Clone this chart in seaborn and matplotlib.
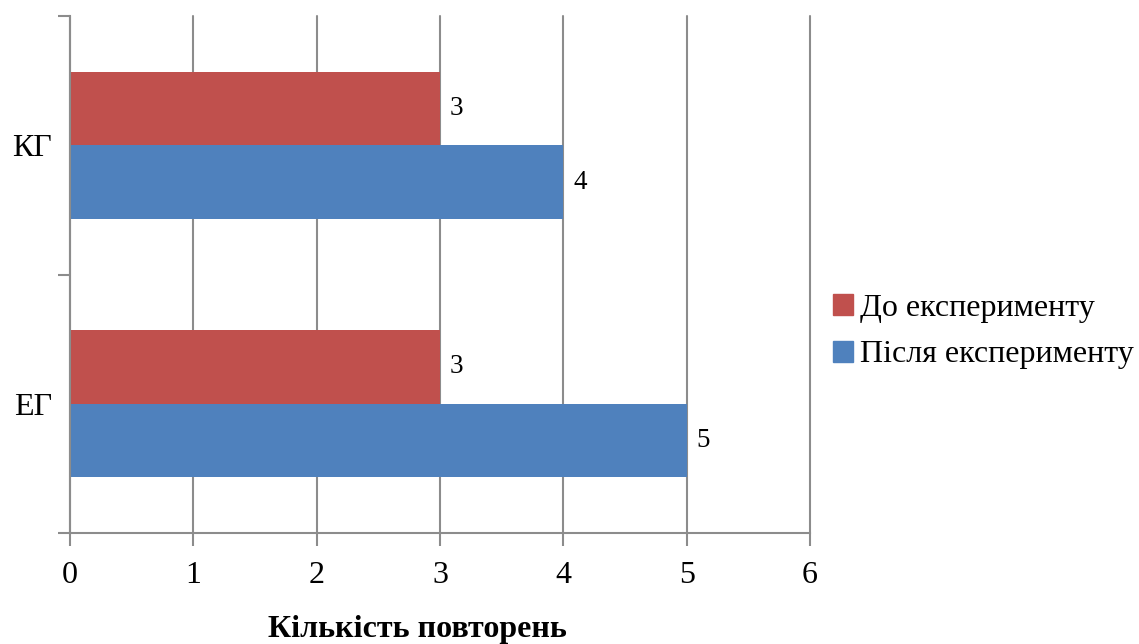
import matplotlib
matplotlib.use("Agg")
import matplotlib.pyplot as plt
import seaborn as sns
import pandas as pd
from matplotlib.ticker import FixedLocator

groups = ["КГ", "ЕГ"]
series_names = ["До експерименту", "Після експерименту"]
before_vals = [3, 3]
after_vals = [4, 5]
x_ticks = [0, 1, 2, 3, 4, 5, 6]
x_label = "Кількість повторень"

colors = ["#C0504D", "#4F81BD"]

df = pd.DataFrame({
    "group": groups * 2,
    "series": [series_names[0]] * len(groups) + [series_names[1]] * len(groups),
    "value": before_vals + after_vals,
})

sns.set_theme(style="white")
plt.rcParams["font.family"] = ["Liberation Serif", "DejaVu Serif"]

fig = plt.figure(figsize=(11.39, 6.44), dpi=100)
ax = fig.add_axes([70 / 1139, 1 - 533 / 644, 740 / 1139, 517 / 644])

sns.barplot(data=df, y="group", x="value", hue="series", order=groups,
            hue_order=series_names, palette=colors, width=0.57,
            orient="h", ax=ax, saturation=1, legend=True,
            linewidth=0, edgecolor="none")

for cont in ax.containers:
    ax.bar_label(cont, padding=7, fontsize=19.5, color="black")

ax.set_xlim(0, 6)
ax.set_ylim(1.5, -0.5)
ax.set_xticks(x_ticks)
ax.set_xticklabels([str(t) for t in x_ticks], fontsize=23)
ax.tick_params(axis="x", direction="out", length=9, width=1.5, color="#8C8C8C",
               pad=11, bottom=True, labelcolor="black")
ax.tick_params(axis="y", which="major", length=0, labelsize=23, pad=13,
               labelcolor="black")
ax.yaxis.set_minor_locator(FixedLocator([-0.5, 0.5, 1.5]))
ax.tick_params(axis="y", which="minor", direction="out", length=9, width=1.5,
               color="#8C8C8C", left=True)
ax.set_ylabel("")
ax.set_xlabel(x_label, fontsize=23, fontweight="bold", color="black")
ax.xaxis.set_label_coords(0.47, -0.158)

ax.grid(axis="x", color="#8C8C8C", linewidth=1.5)
ax.grid(axis="y", visible=False)
for gl in ax.get_xgridlines():
    gl.set_clip_on(False)
ax.set_axisbelow(True)
for s in ["top", "right"]:
    ax.spines[s].set_visible(False)
for s in ["left", "bottom"]:
    ax.spines[s].set_color("#8C8C8C")
    ax.spines[s].set_linewidth(1.5)

leg = ax.get_legend()
leg.remove()
handles = [plt.Rectangle((0, 0), 1, 1, color=c) for c in colors]
fig.legend(handles, series_names, loc="center left",
           bbox_to_anchor=(833 / 1139, 0.485), frameon=False, fontsize=23,
           handlelength=0.63, handleheight=0.63, handletextpad=0.22,
           labelspacing=0.55, borderpad=0, borderaxespad=0,
           labelcolor="black")

fig.savefig("out.png", dpi=100)
